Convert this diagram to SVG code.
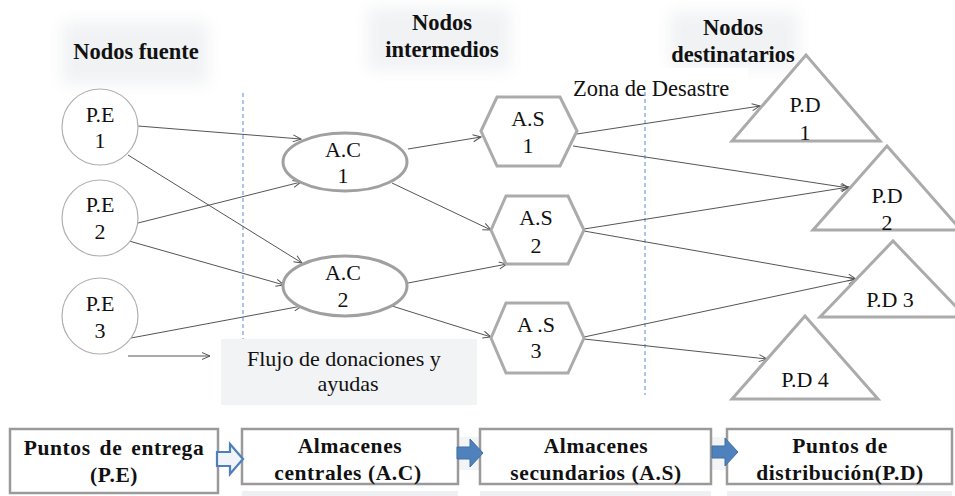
<svg xmlns="http://www.w3.org/2000/svg" width="955" height="496" viewBox="0 0 955 496" font-family="'Liberation Serif', 'DejaVu Serif', 'Times New Roman', serif">
<style>
text{font-family:'Liberation Serif','DejaVu Serif','Times New Roman',serif;fill:#111;}
.lbl{font-size:22px;text-anchor:middle;}
.hdr{font-size:22.5px;font-weight:bold;text-anchor:middle;}
.box{fill:#fff;stroke:#9a9a9a;stroke-width:2.5;}
.btxt{font-size:21.5px;font-weight:bold;text-anchor:middle;letter-spacing:0.6px;}
.circ{fill:#fff;stroke:#b0b0b0;stroke-width:1.2;}
.ell{fill:#fff;stroke:#a0a0a0;stroke-width:3;}
.hex{fill:#fff;stroke:#ababab;stroke-width:3;}
.tri{fill:#fff;stroke:#ababab;stroke-width:3;}
.edge{fill:none;stroke:#555;stroke-width:1;marker-end:url(#arr);}
.dash{stroke:#5b8ed6;stroke-width:1;stroke-dasharray:4 3;}
.shade{fill:#f0f2f4;}
</style>
<defs>
<marker id="arr" markerWidth="10" markerHeight="10" refX="9" refY="4" orient="auto" markerUnits="userSpaceOnUse">
<path d="M1,0.5 L9,4 L1,7.5" fill="none" stroke="#555" stroke-width="1"/>
</marker>
<filter id="blur" x="-30%" y="-30%" width="160%" height="160%"><feGaussianBlur stdDeviation="8"/></filter>
</defs>
<rect width="955" height="496" fill="#fff"/>

<g id="shading">
<rect class="shade" x="62" y="22" width="146" height="62" filter="url(#blur)"/>
<rect class="shade" x="368" y="8" width="142" height="62" filter="url(#blur)"/>
<rect class="shade" x="670" y="12" width="128" height="56" filter="url(#blur)"/>
<rect x="570" y="68" width="178" height="32" fill="#fff"/>
</g>

<g id="headers">
<text class="hdr" x="136" y="59">Nodos fuente</text>
<text class="hdr" x="442" y="30">Nodos</text>
<text class="hdr" x="442" y="57">intermedios</text>
<text class="hdr" x="733" y="35">Nodos</text>
<text class="hdr" x="733" y="62">destinatarios</text>
<text x="573" y="96" font-size="22.5">Zona de Desastre</text>
</g>

<g id="zones">
<line class="dash" x1="243" y1="93" x2="243" y2="340"/>
<line class="dash" x1="645" y1="92" x2="645" y2="395"/>
</g>

<g id="legend">
<rect x="221" y="339" width="256" height="66" fill="#f2f3f5"/>
<text x="247" y="366" font-size="22">Flujo de donaciones y</text>
<text class="lbl" x="348" y="391">ayudas</text>
<line class="edge" x1="128" y1="356" x2="210" y2="356"/>
</g>

<g id="connectors">
<line class="edge" x1="138" y1="126" x2="301" y2="139"/>
<line class="edge" x1="128" y1="155" x2="302" y2="263"/>
<line class="edge" x1="138" y1="223" x2="301" y2="182"/>
<line class="edge" x1="129" y1="241" x2="284" y2="285"/>
<line class="edge" x1="131" y1="338" x2="302" y2="306"/>
<line class="edge" x1="408" y1="149" x2="481" y2="137"/>
<line class="edge" x1="392" y1="183" x2="491" y2="230"/>
<line class="edge" x1="408" y1="283" x2="507" y2="264"/>
<line class="edge" x1="392" y1="306" x2="491" y2="337"/>
<line class="edge" x1="577" y1="134" x2="760" y2="106"/>
<line class="edge" x1="573" y1="146" x2="849" y2="188"/>
<line class="edge" x1="584" y1="229" x2="849" y2="187"/>
<line class="edge" x1="584" y1="231" x2="856" y2="279"/>
<line class="edge" x1="584" y1="337" x2="856" y2="279"/>
<line class="edge" x1="584" y1="339" x2="767" y2="359"/>
</g>

<g id="PE1"><circle class="circ" cx="100" cy="127" r="38"/><text class="lbl" x="100" y="122">P.E</text><text class="lbl" x="100" y="148">1</text></g>
<g id="PE2"><circle class="circ" cx="100" cy="218" r="38"/><text class="lbl" x="100" y="212">P.E</text><text class="lbl" x="100" y="239">2</text></g>
<g id="PE3"><circle class="circ" cx="100" cy="316" r="38"/><text class="lbl" x="100" y="311">P.E</text><text class="lbl" x="100" y="338">3</text></g>

<g id="AC1"><ellipse class="ell" cx="345" cy="162" rx="62" ry="29"/><text class="lbl" x="343" y="157">A.C</text><text class="lbl" x="343" y="183">1</text></g>
<g id="AC2"><ellipse class="ell" cx="345" cy="286" rx="62" ry="30"/><text class="lbl" x="343" y="280">A.C</text><text class="lbl" x="343" y="307">2</text></g>

<g id="AS1"><polygon class="hex" points="481,131 497,97 560,97 577,131 560,166 497,166"/><text class="lbl" x="528" y="126">A.S</text><text class="lbl" x="528" y="153">1</text></g>
<g id="AS2"><polygon class="hex" points="491,230 506,196 568,196 584,230 568,264 506,264"/><text class="lbl" x="536" y="225">A.S</text><text class="lbl" x="536" y="253">2</text></g>
<g id="AS3"><polygon class="hex" points="491,338 506,303 568,303 584,338 568,373 506,373"/><text class="lbl" x="536" y="332">A .S</text><text class="lbl" x="536" y="358">3</text></g>

<g id="PD1"><polygon class="tri" points="732,141 806,55 880,141"/><text class="lbl" x="805" y="112">P.D</text><text class="lbl" x="805" y="140">1</text></g>
<g id="PD2"><polygon class="tri" points="813,230 887,146 961,230"/><text class="lbl" x="887" y="203">P.D</text><text class="lbl" x="887" y="230">2</text></g>
<g id="PD3"><polygon class="tri" points="820,317 893,241 966,317"/><text class="lbl" x="890" y="307">P.D 3</text></g>
<g id="PD4"><polygon class="tri" points="732,399 805,316 878,399"/><text class="lbl" x="805" y="387">P.D 4</text></g>

<g id="bottom">
<rect x="242" y="491" width="216" height="5" fill="#eef0f3"/>
<rect x="480" y="491" width="231" height="5" fill="#eef0f3"/>
<rect x="727" y="491" width="225" height="5" fill="#eef0f3"/>
<rect x="455" y="437" width="28" height="33" fill="#f2f4f7"/>
<rect x="710" y="437" width="28" height="33" fill="#f2f4f7"/>
</g>

<g id="box-PE"><rect class="box" x="10" y="429" width="208" height="64"/><text class="btxt" x="114" y="455" word-spacing="3">Puntos de entrega</text><text class="btxt" x="114" y="482">(P.E)</text></g>
<g id="box-AC"><rect class="box" x="242" y="429" width="216" height="55"/><text class="btxt" x="350" y="453">Almacenes</text><text class="btxt" x="348" y="480">centrales (A.C)</text></g>
<g id="box-AS"><rect class="box" x="480" y="429" width="231" height="55"/><text class="btxt" x="596" y="453">Almacenes</text><text class="btxt" x="596" y="480">secundarios  (A.S)</text></g>
<g id="box-PD"><rect class="box" x="727" y="429" width="225" height="55"/><text class="btxt" x="840" y="453">Puntos de</text><text class="btxt" x="840" y="480">distribución(P.D)</text></g>

<g id="flow-arrows">
<polygon points="217,452 230,452 230,444 243,459 230,474 230,466 217,466" fill="#f0f3f8" stroke="#4f7fba" stroke-width="2.2"/>
<polygon points="457,447 470,447 470,439 483,453 470,467 470,459 457,459" fill="#4f81bd" stroke="#41709f" stroke-width="1"/>
<polygon points="712,446 725,446 725,438 738,452 725,466 725,458 712,458" fill="#4f81bd" stroke="#41709f" stroke-width="1"/>
</g>
</svg>
